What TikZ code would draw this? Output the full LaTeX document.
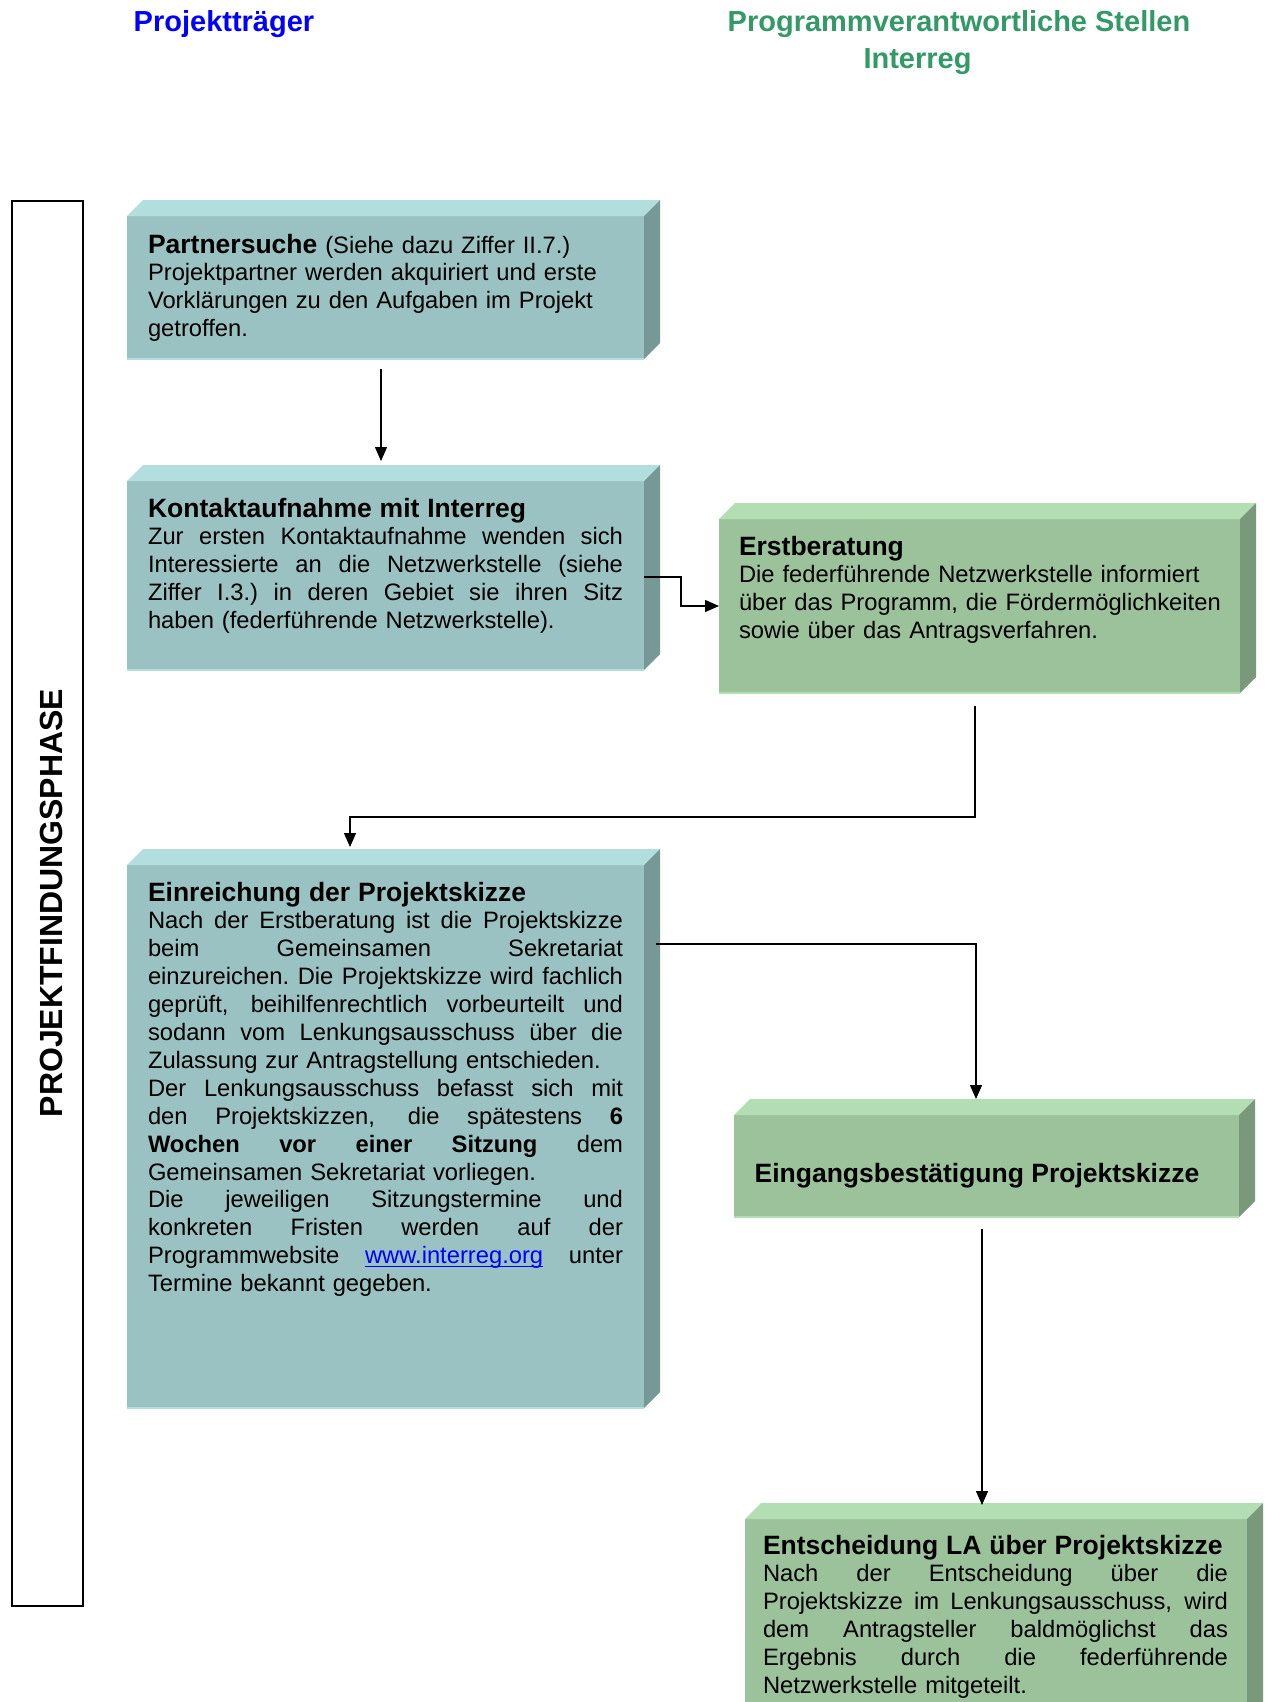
\documentclass[tikz,border=0pt]{standalone}
\usepackage{fontspec}
\setmainfont{Liberation Sans}
\usetikzlibrary{arrows.meta}
\definecolor{tealF}{RGB}{155,194,194}
\definecolor{tealT}{RGB}{178,222,222}
\definecolor{tealS}{RGB}{118,152,150}
\definecolor{greenF}{RGB}{156,194,156}
\definecolor{greenT}{RGB}{179,222,179}
\definecolor{greenS}{RGB}{122,152,122}
\definecolor{headblue}{RGB}{0,0,255}
\definecolor{headgreen}{RGB}{51,153,102}
\definecolor{linkblue}{RGB}{0,0,255}
\newcommand\bodyfont{\fontsize{23.75}{27.9}\selectfont}
\newcommand\hb[1]{{\fontsize{26.5}{27.9}\selectfont\bfseries #1}}
\newcommand\Jline[1]{\hbox to \hsize{\strut\spaceskip=0.278em plus 1fil\xspaceskip=0.278em plus 1fil\relax #1}}
\newcommand\Lline[1]{\hbox{\strut #1}}
\newsavebox\linkbox
\newcommand\ulink[1]{\sbox\linkbox{\textcolor{linkblue}{#1}}\rlap{\textcolor{linkblue}{\rule[-3.5pt]{\wd\linkbox}{1.5pt}}}\usebox\linkbox}
\newcommand\bevel[2]{%
  \fill[#2T] (#1.north west) -- ++(16,-16) -- ([shift={(16,-16)}]#1.north east) -- (#1.north east) -- cycle;
  \fill[#2S] (#1.north east) -- ([shift={(16,-16)}]#1.north east) -- ([shift={(16,-16)}]#1.south east) -- (#1.south east) -- cycle;
  \draw[#2T, line width=1.5pt] (#1.south west) -- (#1.south east);
}
\tikzset{
  every node/.style={inner sep=0pt, outer sep=0pt},
  front/.style={anchor=north west, fill=#1},
  txt/.style={anchor=north west, text width=#1, font=\bodyfont},
  arr/.style={-{Triangle[length=14pt,width=12pt]}, line width=1.3pt},
  headA/.style={anchor=base, font=\fontsize{29}{35}\selectfont\bfseries}
}
\begin{document}
\begin{tikzpicture}[x=1pt,y=-1pt]
\useasboundingbox (0,0) rectangle (1265,1702);
\fill[white] (0,0) rectangle (1265,1702);
\clip (0,0) rectangle (1265,1702);

% headings
\node[headA, text=headblue] (h1) at (224,32) {Projektträger};
\node[headA, text=headgreen] (h2) at (959,32) {Programmverantwortliche Stellen};
\node[headA, text=headgreen] (h3) at (917.5,68) {Interreg};

% phase bar
\node[draw, line width=2pt, anchor=north west, minimum width=71, minimum height=1405] (bar) at (11.5,201) {};
\node[rotate=90, font=\fontsize{32}{36}\selectfont\bfseries] (phase) at (51,903) {PROJEKTFINDUNGSPHASE};

% boxes
\node[front=tealF, minimum width=517, minimum height=143] (b1) at (127,216) {};
\bevel{b1}{teal}
\node[front=tealF, minimum width=517, minimum height=189] (b2) at (127,481) {};
\bevel{b2}{teal}
\node[front=greenF, minimum width=521, minimum height=174] (b3) at (719,519) {};
\bevel{b3}{green}
\node[front=tealF, minimum width=517, minimum height=543] (b4) at (127,865) {};
\bevel{b4}{teal}
\node[front=greenF, minimum width=505, minimum height=102] (b5) at (734,1115) {};
\bevel{b5}{green}
\node[front=greenF, minimum width=502, minimum height=200] (b6) at (745,1519) {};
\bevel{b6}{green}

% texts
\node[txt=480] (t1) at (148,233.5) {%
\Lline{\hb{Partnersuche} (Siehe dazu Ziffer II.7.)}
\Lline{Projektpartner werden akquiriert und erste}
\Lline{Vorklärungen zu den Aufgaben im Projekt}
\Lline{getroffen.}};

\node[txt=475] (t2) at (148,497.5) {%
\Lline{\hb{Kontaktaufnahme mit Interreg}}
\Jline{Zur ersten Kontaktaufnahme wenden sich}
\Jline{Interessierte an die Netzwerkstelle (siehe}
\Jline{Ziffer I.3.) in deren Gebiet sie ihren Sitz}
\Lline{haben (federführende Netzwerkstelle).}};

\node[txt=490] (t3) at (739,535.5) {%
\Lline{\hb{Erstberatung}}
\Lline{Die federführende Netzwerkstelle informiert}
\Lline{über das Programm, die Fördermöglichkeiten}
\Lline{sowie über das Antragsverfahren.}};

\node[txt=475] (t4) at (148,881.5) {%
\Lline{\hb{Einreichung der Projektskizze}}
\Jline{Nach der Erstberatung ist die Projektskizze}
\Jline{beim Gemeinsamen Sekretariat}
\Jline{einzureichen. Die Projektskizze wird fachlich}
\Jline{geprüft, beihilfenrechtlich vorbeurteilt und}
\Jline{sodann vom Lenkungsausschuss über die}
\Lline{Zulassung zur Antragstellung entschieden.}
\Jline{Der Lenkungsausschuss befasst sich mit}
\Jline{den Projektskizzen, die spätestens \textbf{6}}
\Jline{\textbf{Wochen vor einer Sitzung} dem}
\Lline{Gemeinsamen Sekretariat vorliegen.}
\Jline{Die jeweiligen Sitzungstermine und}
\Jline{konkreten Fristen werden auf der}
\Jline{Programmwebsite \ulink{www.interreg.org} unter}
\Lline{Termine bekannt gegeben.}};

\node[anchor=base west, font=\fontsize{26.5}{27.9}\selectfont\bfseries] (t5) at (754.6,1182) {Eingangsbestätigung Projektskizze};

\node[txt=465] (t6) at (763,1534.5) {%
\Lline{\hb{Entscheidung LA über Projektskizze}}
\Jline{Nach der Entscheidung über die}
\Jline{Projektskizze im Lenkungsausschuss, wird}
\Jline{dem Antragsteller baldmöglichst das}
\Jline{Ergebnis durch die federführende}
\Lline{Netzwerkstelle mitgeteilt.}};

% connectors
\coordinate (a1s) at (381,369);
\coordinate (a1e) at (381,461);
\draw[arr] (a1s) -- (a1e);

\coordinate (a2s) at (644,577);
\coordinate (a2e) at (719,606);
\draw[arr] (a2s) -- (681,577) |- (a2e);

\coordinate (a3s) at (975,706);
\coordinate (a3e) at (350,847);
\draw[arr] (a3s) -- (975,817) -| (a3e);

\coordinate (a4s) at (656,944);
\coordinate (a4e) at (976,1099);
\draw[arr] (a4s) -| (a4e);

\coordinate (a5s) at (982,1229);
\coordinate (a5e) at (982,1505);
\draw[arr] (a5s) -- (a5e);
\end{tikzpicture}
\end{document}
